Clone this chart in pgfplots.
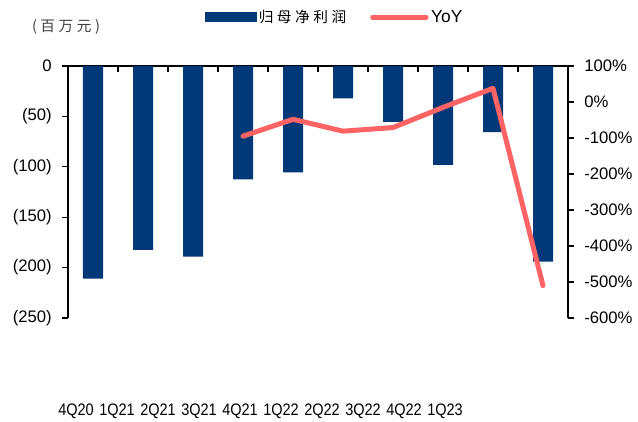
\documentclass[border=0pt]{standalone}
\usepackage{fontspec}
\setmainfont{Liberation Sans}
\newfontfamily\cjk[LetterSpace=24]{Noto Sans CJK SC}
\usepackage{pgfplots}
\pgfplotsset{compat=1.18}
\definecolor{navy}{RGB}{0,56,120}
\definecolor{salmon}{RGB}{255,99,99}
\newcommand{\nx}[1]{\scalebox{0.87}[1]{#1}}
\begin{document}
\begin{tikzpicture}
\useasboundingbox (-51pt,-77.25pt) rectangle (427.5pt,238.5pt);
\begin{axis}[
  at={(0pt,0pt)}, anchor=south west, scale only axis,
  width=375pt, height=189pt, clip=false,
  xmin=-0.5, xmax=9.5, ymin=-250, ymax=0,
  axis x line*=top, axis y line*=left,
  xtick={-0.5,0.5,...,9.5}, xticklabels={},
  ytick={-250,-200,...,0}, yticklabels={(250),(200),(150),(100),(50),0},
  xtick align=inside, ytick align=outside,
  major tick length=4.5pt,
  axis line style={black, line width=0.8pt},
  every tick/.style={black, line width=0.8pt},
  yticklabel style={font=\fontsize{12.5pt}{15pt}\selectfont, xshift=-4.2pt},
]
\addplot[ybar, bar width=15pt, fill=navy, draw=none] coordinates {
(0,-211) (1,-182.5) (2,-189) (3,-112.5) (4,-105.5) (5,-32) (6,-55.5) (7,-98) (8,-65.5) (9,-194)};
\node[font=\cjk\fontsize{11pt}{13pt}\selectfont, text=black!75] at (rel axis cs:-0.004,1.155) {(百万元)};
\end{axis}
\begin{axis}[
  at={(0pt,0pt)}, anchor=south west, scale only axis,
  width=375pt, height=189pt, clip=false,
  xmin=-0.5, xmax=9.5, ymin=-600, ymax=100,
  axis y line*=right, axis x line*=bottom,
  x axis line style={draw=none},
  xtick={-0.34,0.48,1.30,2.12,2.94,3.76,4.58,5.40,6.22,7.04},
  xticklabels={\nx{4Q20},\nx{1Q21},\nx{2Q21},\nx{3Q21},\nx{4Q21},\nx{1Q22},\nx{2Q22},\nx{3Q22},\nx{4Q22},\nx{1Q23}},
  xtick style={draw=none},
  xticklabel style={font=\fontsize{12.5pt}{15pt}\selectfont, yshift=-61pt},
  ytick={-600,-500,...,100},
  yticklabels={-600\%,-500\%,-400\%,-300\%,-200\%,-100\%,0\%,100\%},
  yticklabel style={font=\fontsize{12.5pt}{15pt}\selectfont, xshift=4.2pt},
  ytick align=outside,
  major tick length=4.5pt,
  y axis line style={black, line width=0.8pt},
  ytick style={black, line width=0.8pt},
  legend style={at={(0.534,1.194)}, anchor=center, draw=none, fill=none,
    inner sep=0pt, font=\fontsize{13pt}{15pt}\selectfont,
    /tikz/every even column/.append style={column sep=16pt}},
  legend columns=2,
]
\addlegendimage{legend image code/.code={\fill[navy] (0pt,-3.4pt) rectangle (38pt,3.4pt);}}
\addlegendentry{\cjk\fontsize{11pt}{13pt}\selectfont 归母净利润}
\addplot[salmon, line width=3.75pt, line join=round, line cap=round,
  legend image code/.code={\draw[salmon,line width=3.75pt,line cap=round] (0pt,0pt) -- (40pt,0pt);}]
  coordinates {(3,-95) (4,-48) (5,-81) (6,-71) (7,-15) (8,38) (9,-510)};
\addlegendentry{YoY}
\end{axis}
\end{tikzpicture}
\end{document}
